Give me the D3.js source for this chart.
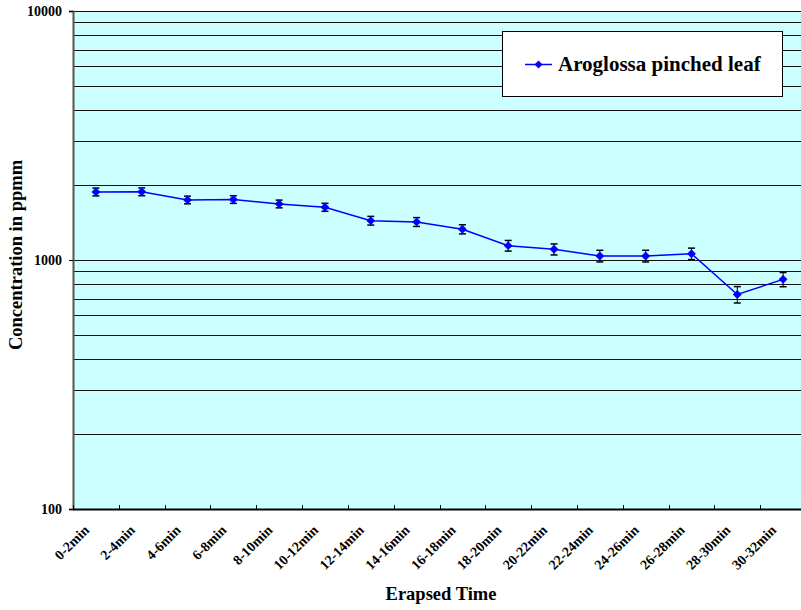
<!DOCTYPE html>
<html>
<head>
<meta charset="utf-8">
<script src="https://cdn.jsdelivr.net/npm/d3@7"></script>
<style>
  body { margin: 0; background: #fff; }
  svg { display: block; font-family: "Liberation Serif", "Times New Roman", serif; font-weight: bold; }
</style>
</head>
<body>
<div id="chart"></div>
<script>
// data
var categories = ["0-2min","2-4min","4-6min","6-8min","8-10min","10-12min","12-14min","14-16min",
  "16-18min","18-20min","20-22min","22-24min","24-26min","26-28min","28-30min","30-32min"];
var concentration = [1877, 1880, 1743, 1750, 1680, 1629, 1439, 1422, 1329, 1142, 1104, 1038, 1038, 1060, 727, 836];
var errors = [68, 68, 62, 62, 60, 60, 58, 58, 56, 56, 56, 56, 56, 56, 55, 55];
var yTicks = [100, 1000, 10000];
var seriesName = "Aroglossa pinched leaf";

var W = 801, H = 610;
var plotL = 73, plotR = 806, plotT = 11, plotB = 509;

var svg = d3.select("#chart").append("svg")
  .attr("width", W)
  .attr("height", H);

var x = d3.scaleBand()
  .domain(categories)
  .range([plotL, plotR]);

var y = d3.scaleLog()
  .domain([100, 10000])
  .range([plotB, plotT]);

// plot background
svg.append("rect")
  .attr("x", plotL).attr("y", plotT)
  .attr("width", plotR - plotL).attr("height", plotB - plotT)
  .attr("fill", "#ccffff");

// gridlines on every minor log step
var gridVals = [];
[100, 1000].forEach(function(dec) {
  for (var k = 2; k <= 10; k++) gridVals.push(dec * k);
});
svg.append("g")
  .selectAll("line")
  .data(gridVals)
  .enter()
  .append("line")
  .attr("x1", plotL).attr("x2", plotR)
  .attr("y1", function(d) { return Math.round(y(d)) + 0.5; })
  .attr("y2", function(d) { return Math.round(y(d)) + 0.5; })
  .attr("stroke", "#111")
  .attr("stroke-width", 1);

// y axis
var yAxis = svg.append("g")
  .attr("transform", "translate(" + plotL + ",0)")
  .call(d3.axisLeft(y).tickValues(yTicks).tickFormat(d3.format("d")).tickSize(4));
yAxis.select(".domain").attr("stroke", "#555").attr("stroke-width", 2);
yAxis.selectAll(".tick line").attr("stroke", "#000");
yAxis.selectAll("text")
  .attr("x", -11)
  .attr("font-size", "14px")
  .attr("font-weight", "bold")
  .attr("font-family", "Liberation Serif")
  .attr("fill", "#000");

// x axis with ticks on category boundaries
var xAxis = svg.append("g")
  .attr("transform", "translate(0," + plotB + ")");
xAxis.append("line")
  .attr("x1", plotL).attr("x2", plotR)
  .attr("y1", 0.5).attr("y2", 0.5)
  .attr("stroke", "#000").attr("stroke-width", 2);
xAxis.selectAll(".tk")
  .data(categories)
  .enter()
  .append("line")
  .attr("class", "tk")
  .attr("x1", function(d) { return Math.round(x(d)) + 0.5; })
  .attr("x2", function(d) { return Math.round(x(d)) + 0.5; })
  .attr("y1", -4).attr("y2", 0)
  .attr("stroke", "#000");
xAxis.selectAll(".lbl")
  .data(categories)
  .enter()
  .append("text")
  .attr("class", "lbl")
  .attr("text-anchor", "end")
  .attr("font-size", "14px")
  .attr("transform", function(d) {
    var cx = x(d) + x.bandwidth() / 2 - 6;
    return "translate(" + cx + ",22) rotate(-45)";
  })
  .text(function(d) { return d; });

// axis titles
svg.append("text")
  .attr("x", 441)
  .attr("y", 600)
  .attr("text-anchor", "middle")
  .attr("font-size", "18.5px")
  .text("Erapsed Time");

svg.append("text")
  .attr("transform", "translate(22,255) rotate(-90)")
  .attr("text-anchor", "middle")
  .attr("font-size", "18.5px")
  .text("Concentration in ppmm");

// series line
var cx = function(d, i) { return x(categories[i]) + x.bandwidth() / 2; };
var line = d3.line()
  .x(cx)
  .y(function(d) { return y(d); });

svg.append("path")
  .datum(concentration)
  .attr("d", line)
  .attr("fill", "none")
  .attr("stroke", "#0000ff")
  .attr("stroke-width", 1.5);

// error bars
var eb = svg.append("g").selectAll("g")
  .data(concentration)
  .enter()
  .append("g");
eb.append("line")
  .attr("x1", cx).attr("x2", cx)
  .attr("y1", function(d, i) { return y(d + errors[i]); })
  .attr("y2", function(d, i) { return y(d - errors[i]); })
  .attr("stroke", "#000");
eb.append("line")
  .attr("x1", function(d, i) { return cx(d, i) - 3.5; })
  .attr("x2", function(d, i) { return cx(d, i) + 3.5; })
  .attr("y1", function(d, i) { return y(d + errors[i]); })
  .attr("y2", function(d, i) { return y(d + errors[i]); })
  .attr("stroke", "#000").attr("stroke-width", 1.5);
eb.append("line")
  .attr("x1", function(d, i) { return cx(d, i) - 3.5; })
  .attr("x2", function(d, i) { return cx(d, i) + 3.5; })
  .attr("y1", function(d, i) { return y(d - errors[i]); })
  .attr("y2", function(d, i) { return y(d - errors[i]); })
  .attr("stroke", "#000").attr("stroke-width", 1.5);

// diamond markers
var diamond = d3.symbol().type(d3.symbolDiamond2).size(50);
svg.append("g").selectAll("path")
  .data(concentration)
  .enter()
  .append("path")
  .attr("d", diamond)
  .attr("transform", function(d, i) { return "translate(" + cx(d, i) + "," + y(d) + ")"; })
  .attr("fill", "#0000ff");

// legend
var lg = svg.append("g");
lg.append("rect")
  .attr("x", 502.5).attr("y", 31.5)
  .attr("width", 280).attr("height", 65)
  .attr("fill", "#fff").attr("stroke", "#000");
lg.append("line")
  .attr("x1", 525).attr("x2", 552)
  .attr("y1", 64.5).attr("y2", 64.5)
  .attr("stroke", "#0000ff").attr("stroke-width", 1.5);
lg.append("path")
  .attr("d", d3.symbol().type(d3.symbolDiamond2).size(40))
  .attr("transform", "translate(538.5,64.5)")
  .attr("fill", "#0000ff");
lg.append("text")
  .attr("x", 558).attr("y", 71)
  .attr("font-size", "21px")
  .text(seriesName);
</script>
</body>
</html>
